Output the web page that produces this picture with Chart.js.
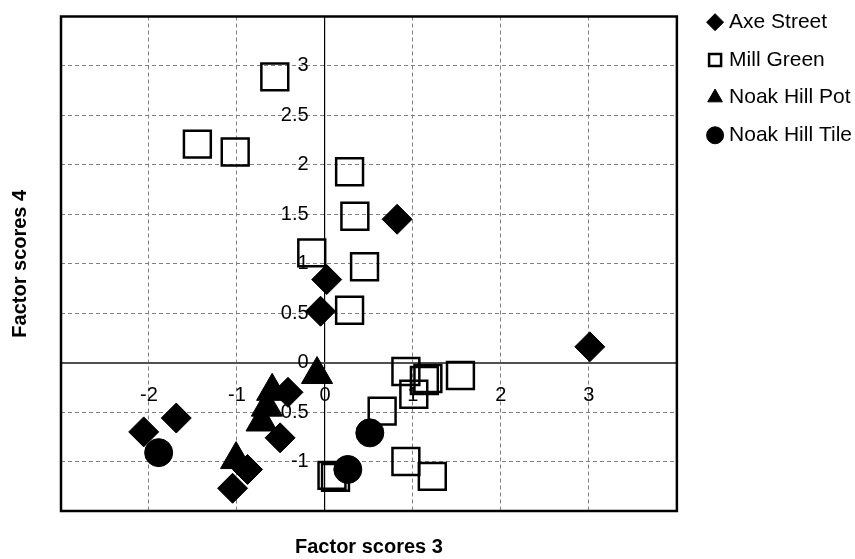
<!DOCTYPE html>
<html>
<head>
<meta charset="utf-8">
<script src="https://cdn.jsdelivr.net/npm/chart.js@4/dist/chart.umd.min.js"></script>
<style>
  html, body { margin: 0; padding: 0; background: #fff; overflow: hidden; }
  #wrap { position: absolute; left: 0; top: -5px; width: 862px; height: 564px; }
</style>
</head>
<body>
<div id="wrap"><canvas id="chart"></canvas></div>
<script>
// Factor scores (x = factor 3, y = factor 4)
const axeStreetX = [0.82, 0.02, -0.05, 3.01, -1.69, -2.06, -0.42, -0.51, -0.88, -1.05];
const axeStreetY = [1.45, 0.84, 0.52, 0.16, -0.56, -0.70, -0.30, -0.76, -1.08, -1.27];

const millGreenX = [-0.57, -1.45, -1.02, 0.28, 0.34, -0.15, 0.45, 0.28, 0.92, 1.13, 1.17, 1.01, 1.54, 0.65, 0.92, 1.22, 0.08, 0.12];
const millGreenY = [2.89, 2.21, 2.13, 1.93, 1.48, 1.11, 0.97, 0.53, -0.09, -0.18, -0.16, -0.32, -0.13, -0.49, -1.00, -1.15, -1.14, -1.16];

const noakPotX = [-0.09, -0.60, -0.66, -0.72, -1.01];
const noakPotY = [-0.12, -0.29, -0.45, -0.60, -0.98];

const noakTileX = [-1.89, 0.51, 0.26];
const noakTileY = [-0.91, -0.71, -1.08];

const xTickLabels = [-2, -1, 0, 1, 2, 3];
const yTickLabels = [-1, -0.5, 0, 0.5, 1, 1.5, 2, 2.5, 3];

const zip = (xs, ys) => xs.map((x, i) => ({ x: x, y: ys[i] }));

Chart.defaults.font.family = "'Liberation Sans', Arial, sans-serif";
Chart.defaults.color = "#000";

// plot frame
const frame = {
  id: "frame",
  beforeDatasetsDraw(chart) {
    const { ctx, chartArea: a } = chart;
    ctx.save();
    ctx.strokeStyle = "#000";
    ctx.lineWidth = 2.5;
    ctx.strokeRect(a.left, a.top, a.right - a.left, a.bottom - a.top);
    ctx.restore();
  },
};

const isZero = (c) => c.tick && c.tick.value === 0;

new Chart(document.getElementById("chart"), {
  type: "scatter",
  data: {
    datasets: [
      {
        label: "Axe Street",
        data: zip(axeStreetX, axeStreetY),
        pointStyle: "rectRot",
        pointRadius: 15,
        backgroundColor: "#000",
        borderColor: "#000",
        borderWidth: 1,
        order: 1,
        xAxisID: "x",
        yAxisID: "y",
      },
      {
        label: "Mill Green",
        data: zip(millGreenX, millGreenY),
        pointStyle: "rect",
        pointRadius: 19,
        backgroundColor: "rgba(0,0,0,0)",
        borderColor: "#000",
        borderWidth: 2.5,
        order: 2,
        xAxisID: "x",
        yAxisID: "y",
      },
      {
        label: "Noak Hill Pot",
        data: zip(noakPotX, noakPotY),
        pointStyle: "triangle",
        pointRadius: 18,
        backgroundColor: "#000",
        borderColor: "#000",
        borderWidth: 1,
        order: 1,
        xAxisID: "x",
        yAxisID: "y",
      },
      {
        label: "Noak Hill Tile",
        data: zip(noakTileX, noakTileY),
        pointStyle: "circle",
        pointRadius: 14,
        backgroundColor: "#000",
        borderColor: "#000",
        borderWidth: 1,
        order: 0,
        xAxisID: "x",
        yAxisID: "y",
      },
    ],
  },
  options: {
    responsive: true,
    maintainAspectRatio: false,
    animation: false,
    events: [],
    layout: { padding: 0 },
    scales: {
      x: {
        type: "linear",
        min: -3,
        max: 4,
        position: { y: 0 },
        grid: {
          drawTicks: false,
          color: (c) => (isZero(c) ? "#000" : "#808080"),
          lineWidth: (c) => (isZero(c) ? 1.2 : 1),
        },
        border: { display: false, dash: (c) => (isZero(c) ? [] : [4, 3]) },
        ticks: {
          stepSize: 1,
          padding: 21,
          font: { size: 20 },
          color: "#000",
          callback: (v) => (xTickLabels.includes(v) ? String(v) : ""),
        },
      },
      y: {
        type: "linear",
        min: -1.5,
        max: 3.5,
        position: { x: -0.185 },
        grid: {
          drawTicks: false,
          color: (c) => (isZero(c) ? "#505050" : "#808080"),
          lineWidth: (c) => (isZero(c) ? 2 : 1),
        },
        border: { display: false, dash: (c) => (isZero(c) ? [] : [4, 3]) },
        ticks: {
          stepSize: 0.5,
          padding: 0,
          font: { size: 20 },
          color: "#000",
          callback: (v) => (yTickLabels.includes(v) ? String(v) : ""),
        },
      },
      // spacers that keep the plot box where the picture has it
      xSpace: {
        type: "linear",
        position: "top",
        display: false,
        afterFit: (s) => { s.height = 21; },
      },
      ySpace: {
        type: "linear",
        position: "right",
        display: false,
        afterFit: (s) => { s.width = 18; },
      },
    },
    plugins: {
      tooltip: { enabled: false },
      legend: {
        position: "right",
        align: "start",
        maxWidth: 220,
        labels: {
          usePointStyle: true,
          boxWidth: 7,
          boxHeight: 12,
          padding: 16.7,
          font: { size: 21 },
          color: "#000",
          sort: (a, b) => a.datasetIndex - b.datasetIndex,
        },
      },
      title: {
        display: true,
        text: "Factor scores 4",
        position: "left",
        fullSize: false,
        color: "#000",
        font: { size: 20, weight: "bold" },
        padding: { top: 8, bottom: 29 },
      },
      subtitle: {
        display: true,
        text: "Factor scores 3",
        position: "bottom",
        fullSize: false,
        color: "#000",
        font: { size: 20, weight: "bold" },
        padding: { top: 24, bottom: 0 },
      },
    },
  },
  plugins: [frame],
});
</script>
</body>
</html>
